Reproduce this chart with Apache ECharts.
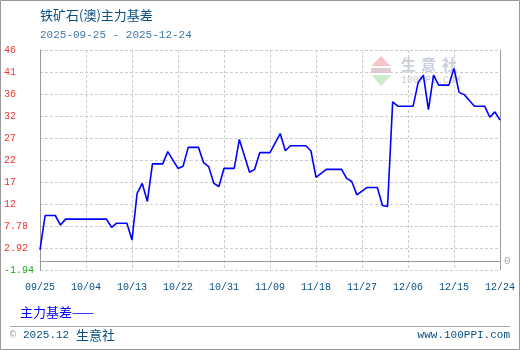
<!DOCTYPE html>
<html>
<head>
<meta charset="utf-8">
<script src="https://cdn.jsdelivr.net/npm/echarts@6/dist/echarts.min.js"></script>
<style>html,body{margin:0;padding:0;background:#fff;}#c{width:520px;height:350px;}</style>
</head>
<body>
<div id="c"></div>
<script>
const dates = ['2025-09-25','2025-09-26','2025-09-28','2025-09-29','2025-09-30',
  '2025-10-08','2025-10-09','2025-10-10','2025-10-12','2025-10-13',
  '2025-10-14','2025-10-15','2025-10-16','2025-10-17','2025-10-19',
  '2025-10-20','2025-10-22','2025-10-23','2025-10-24','2025-10-26',
  '2025-10-27','2025-10-28','2025-10-29','2025-10-30','2025-10-31',
  '2025-11-02','2025-11-03','2025-11-05','2025-11-06','2025-11-07',
  '2025-11-09','2025-11-11','2025-11-12','2025-11-13','2025-11-16',
  '2025-11-17','2025-11-18','2025-11-20','2025-11-23','2025-11-24',
  '2025-11-25','2025-11-26','2025-11-28','2025-11-30','2025-12-01',
  '2025-12-02','2025-12-03','2025-12-04','2025-12-07','2025-12-08',
  '2025-12-09','2025-12-10','2025-12-11','2025-12-12','2025-12-14',
  '2025-12-15','2025-12-16','2025-12-17','2025-12-18','2025-12-19',
  '2025-12-21','2025-12-22','2025-12-23','2025-12-24'];
const basis = [2.5,10.1,10.1,8.0,9.3,
  9.3,7.5,8.4,8.4,4.7,
  15.0,17.2,13.2,21.5,21.5,
  24.2,20.5,21.0,25.15,25.15,
  21.8,20.9,17.2,16.5,20.5,
  20.5,26.9,19.65,20.3,24.0,
  24.0,28.2,24.4,25.5,25.5,
  24.4,18.5,20.3,20.3,18.3,
  17.6,14.65,16.3,16.3,12.3,
  12.1,35.2,34.25,34.25,39.5,
  41.1,33.5,41.1,38.9,38.9,
  42.6,37.3,36.8,35.5,34.25,
  34.25,31.8,33.0,31.2];
const xTickLabels = ['09/25','10/04','10/13','10/22','10/31','11/09','11/18','11/27','12/06','12/15','12/24'];
const yTickLabels = ['-1.94','2.92','7.78','12','17','22','27','32','36','41','46'];
const titleText = '铁矿石(澳)主力基差';
const subtitleText = '2025-09-25 - 2025-12-24';
const seriesName = '主力基差';

const Y_MIN = -1.94, Y_STEP = 4.86, Y_MAX = Y_MIN + Y_STEP * 10;
const X_STEP = 9, X_MAX = 90;
const t0 = Date.parse(dates[0] + 'T00:00:00Z');
const dayOf = d => Math.round((Date.parse(d + 'T00:00:00Z') - t0) / 86400000);
const seriesData = dates.map((d, i) => [dayOf(d), basis[i]]);

const MONO = '"Liberation Mono", "DejaVu Sans Mono", monospace';
const CJK = '"Noto Sans CJK SC", sans-serif';
const DARK = '#0a4f80';

const chart = echarts.init(document.getElementById('c'), null, {renderer: 'canvas'});
chart.setOption({
  animation: false,
  backgroundColor: '#fff',
  grid: {left: 40, right: 20, top: 50, bottom: 80, containLabel: false},
  xAxis: {
    type: 'value', min: 0, max: X_MAX, interval: X_STEP,
    axisLine: {show: true, lineStyle: {color: '#999', width: 1}},
    axisTick: {show: false},
    splitLine: {show: true, lineStyle: {color: '#cccccc', type: [3, 2], width: 1}},
    axisLabel: {
      show: true, showMinLabel: true, showMaxLabel: true, hideOverlap: false,
      margin: 12, color: DARK, fontFamily: MONO, fontSize: 10,
      formatter: v => xTickLabels[Math.round(v / X_STEP)] || ''
    }
  },
  yAxis: [{
    type: 'value', min: Y_MIN, max: Y_MAX, interval: Y_STEP,
    axisLine: {show: true, lineStyle: {color: '#999', width: 1}},
    axisTick: {show: false},
    splitLine: {show: true, lineStyle: {color: '#cccccc', type: [3, 2], width: 1}},
    axisLabel: {
      show: true, showMinLabel: true, showMaxLabel: true, hideOverlap: false,
      align: 'left', margin: 36, fontFamily: MONO, fontSize: 10,
      formatter: v => {
        const i = Math.round((v - Y_MIN) / Y_STEP);
        const t = yTickLabels[i];
        if (t === undefined) return '';
        return i === 0 ? '{g|' + t + '}' : '{r|' + t + '}';
      },
      rich: {
        g: {color: '#22a022', fontFamily: MONO, fontSize: 10},
        r: {color: '#f03535', fontFamily: MONO, fontSize: 10}
      }
    }
  }, {
    type: 'value', position: 'right', min: Y_MIN, max: Y_MAX, interval: Y_STEP,
    axisLine: {show: true, lineStyle: {color: '#999', width: 1}},
    axisTick: {show: false}, axisLabel: {show: false}, splitLine: {show: false}
  }],
  series: [{
    name: seriesName, type: 'line', yAxisIndex: 0,
    data: seriesData, showSymbol: false, symbol: 'none',
    lineStyle: {color: '#0000ff', width: 1.6},
    z: 5,
    markLine: {
      silent: true, symbol: 'none', animation: false,
      lineStyle: {color: '#999', type: 'solid', width: 1},
      label: {show: true, position: 'end', formatter: '0', color: '#aaa', fontFamily: MONO, fontSize: 11, distance: 4},
      data: [{yAxis: 0}]
    }
  }],
  graphic: [
    {type: 'rect', silent: true, shape: {x: 0.5, y: 0.5, width: 519, height: 349},
     style: {fill: 'none', stroke: '#999', lineWidth: 1}, z: 100},
    {type: 'line', silent: true, shape: {x1: 10, y1: 326.5, x2: 510, y2: 326.5},
     style: {stroke: '#aaa', lineWidth: 1}},
    {type: 'text', x: 40, y: 15, silent: true,
     style: {text: titleText, fill: DARK, font: '13px ' + CJK, align: 'left', verticalAlign: 'middle'}},
    {type: 'text', x: 40, y: 35, silent: true,
     style: {text: subtitleText, fill: '#3f78a8', font: '11px ' + MONO, align: 'left', verticalAlign: 'middle'}},
    {type: 'text', x: 20, y: 312, silent: true,
     style: {text: seriesName + '——', fill: '#0000ff', font: '13px ' + CJK, align: 'left', verticalAlign: 'middle'}},
    {type: 'text', x: 10, y: 335, silent: true,
     style: {text: '©', fill: '#8899aa', font: '10px ' + MONO, align: 'left', verticalAlign: 'middle'}},
    {type: 'text', x: 23, y: 335, silent: true,
     style: {text: '2025.12', fill: DARK, font: '11px ' + MONO, align: 'left', verticalAlign: 'middle'}},
    {type: 'text', x: 76, y: 335, silent: true,
     style: {text: '生意社', fill: DARK, font: '13px ' + CJK, align: 'left', verticalAlign: 'middle'}},
    {type: 'text', x: 510, y: 335, silent: true,
     style: {text: 'www.100PPI.com', fill: DARK, font: '11px ' + MONO, align: 'right', verticalAlign: 'middle'}},
    // watermark
    {type: 'polygon', silent: true, z: 0, shape: {points: [[381, 56], [371.5, 66], [390.5, 66]]},
     style: {fill: '#f6b8b8', opacity: 0.8}},
    {type: 'rect', silent: true, z: 0, shape: {x: 371, y: 68, width: 20, height: 5},
     style: {fill: '#d8c0c8', opacity: 0.8}},
    {type: 'polygon', silent: true, z: 0, shape: {points: [[371.5, 75], [391.5, 75], [381, 86]]},
     style: {fill: '#bfe8bf', opacity: 0.8}},
    {type: 'text', x: 401, y: 64, silent: true, z: 0,
     style: {text: '生', fill: '#c8cddd', font: 'bold 15px ' + CJK, align: 'left', verticalAlign: 'middle'}},
    {type: 'text', x: 421, y: 64, silent: true, z: 0,
     style: {text: '意', fill: '#c8cddd', font: 'bold 15px ' + CJK, align: 'left', verticalAlign: 'middle'}},
    {type: 'text', x: 442, y: 64, silent: true, z: 0,
     style: {text: '社', fill: '#c8cddd', font: 'bold 15px ' + CJK, align: 'left', verticalAlign: 'middle'}},
    {type: 'text', x: 401, y: 80, silent: true, z: 0,
     style: {text: '100PPI.COM', fill: '#cccccc', font: '10px ' + MONO, align: 'left', verticalAlign: 'middle'}}
  ]
});
</script>
</body>
</html>
